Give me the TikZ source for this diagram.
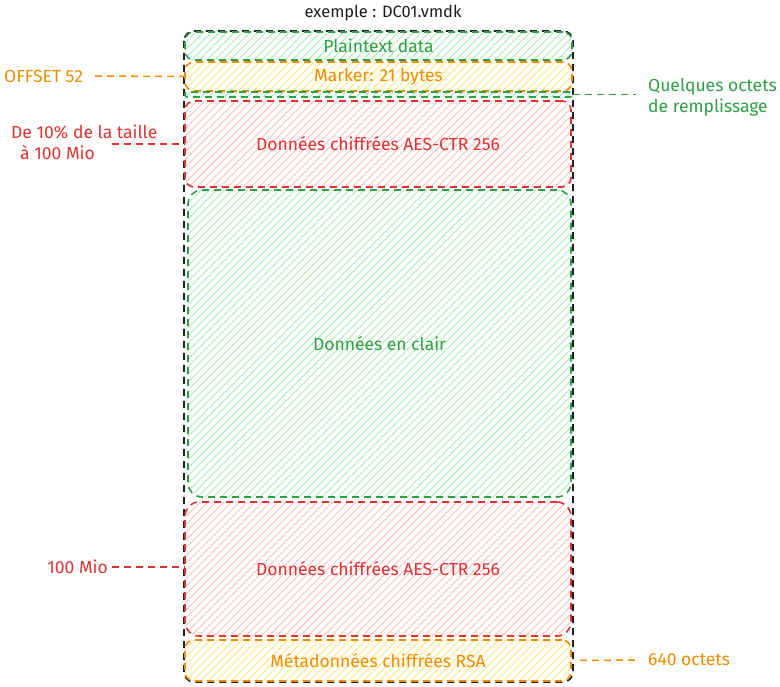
\documentclass[tikz,border=0pt]{standalone}
\usepackage{fontspec}
\setmainfont{Fira Sans}
\usetikzlibrary{patterns.meta}
\definecolor{grn}{HTML}{2F9E44}
\definecolor{grnfill}{HTML}{A6EDB0}
\definecolor{rd}{HTML}{E03131}
\definecolor{rdfill}{HTML}{FFBDBD}
\definecolor{orng}{HTML}{F08C00}
\definecolor{orngfill}{HTML}{FFE780}
\definecolor{ink}{HTML}{1E1E1E}
\tikzset{
	zone/.style={draw, rounded corners=9pt, line width=1.6pt, dash pattern=on 7pt off 5pt,
		pattern={Lines[angle=45,distance=5.5pt,line width=0.9pt]}, inner sep=0pt,
		minimum width=386pt, font=\fontsize{17.5}{21}\selectfont},
	note/.style={inner sep=0pt, font=\fontsize{17.5}{21}\selectfont},
	lead/.style={line width=1.5pt, dash pattern=on 7pt off 5pt}
}

\begin{document}
\begin{tikzpicture}[x=1pt,y=-1pt]
			%%%%% START %%%%%
			\useasboundingbox (0,0) rectangle (780,687);
			
			\node[inner sep=0pt, font=\fontsize{16.5}{20}\selectfont, text=ink] (title) at (383,13) {exemple : DC01.vmdk};
			\draw[ink, line width=1.6pt, dash pattern=on 7pt off 5pt, rounded corners=10pt] (184,31) rectangle (573,682);
			
			\node[zone, draw=grn, pattern color=grnfill, text=grn, minimum width=387pt, minimum height=28pt] (plain) at (378.5,46) {Plaintext data};
			\node[zone, draw=orng, pattern color=orngfill, text=orng, minimum width=387pt, minimum height=29pt] (marker) at (378.5,76.5) {Marker: 21 bytes};
			\node[zone, draw=grn, pattern color=grnfill, rounded corners=2pt, minimum width=387pt, minimum height=5pt] (pad) at (378.5,94.5) {};
			
			\node[zone, draw=rd, pattern color=rdfill, text=rd, minimum height=86pt] (crypt1) at (378,144) {Données chiffrées AES-CTR 256};
			\node[zone, draw=grn, pattern color=grnfill, text=grn, rounded corners=14pt, minimum width=383pt, minimum height=307pt] (clear) at (379.5,343.5) {Données en clair};
			\node[zone, draw=rd, pattern color=rdfill, text=rd, rounded corners=14pt, minimum height=134pt] (crypt2) at (378,569) {Données chiffrées AES-CTR 256};
			\node[zone, draw=orng, pattern color=orngfill, text=orng, minimum height=41pt] (meta) at (378,660.5) {Métadonnées chiffrées RSA};
			
			% notes on the left
			\node[note, text=orng, anchor=west] (offset) at (4,76) {OFFSET 52};
			\draw[lead, orng, shorten <=12pt] (offset.east) -- (marker.west);
			
			\node[note, text=rd, anchor=west, align=left] (taille) at (11,142) {De 10\% de la taille\\\hspace{9pt}à 100 Mio};
			\coordinate (tailleend) at (112,144);
			\draw[lead, rd] (tailleend) -- (tailleend -| crypt1.west);
			
			\node[note, text=rd, anchor=east] (mio) at (108,567) {100 Mio};
			\draw[lead, rd, shorten <=4pt] (mio.east) -- (mio.east -| crypt2.west);
			
			% notes on the right
			\node[note, text=grn, anchor=west, align=left] (padnote) at (648,97) {Quelques octets\\de remplissage};
			\draw[lead, grn, shorten >=12pt] (pad.east) -- (pad.east -| padnote.west);
			
			\node[note, text=orng, anchor=west] (octets) at (648,660) {640 octets};
			\draw[lead, orng, shorten <=8pt, shorten >=12pt] (meta.east) -- (octets.west);
			%%%%% END %%%%%
\end{tikzpicture}
\end{document}
